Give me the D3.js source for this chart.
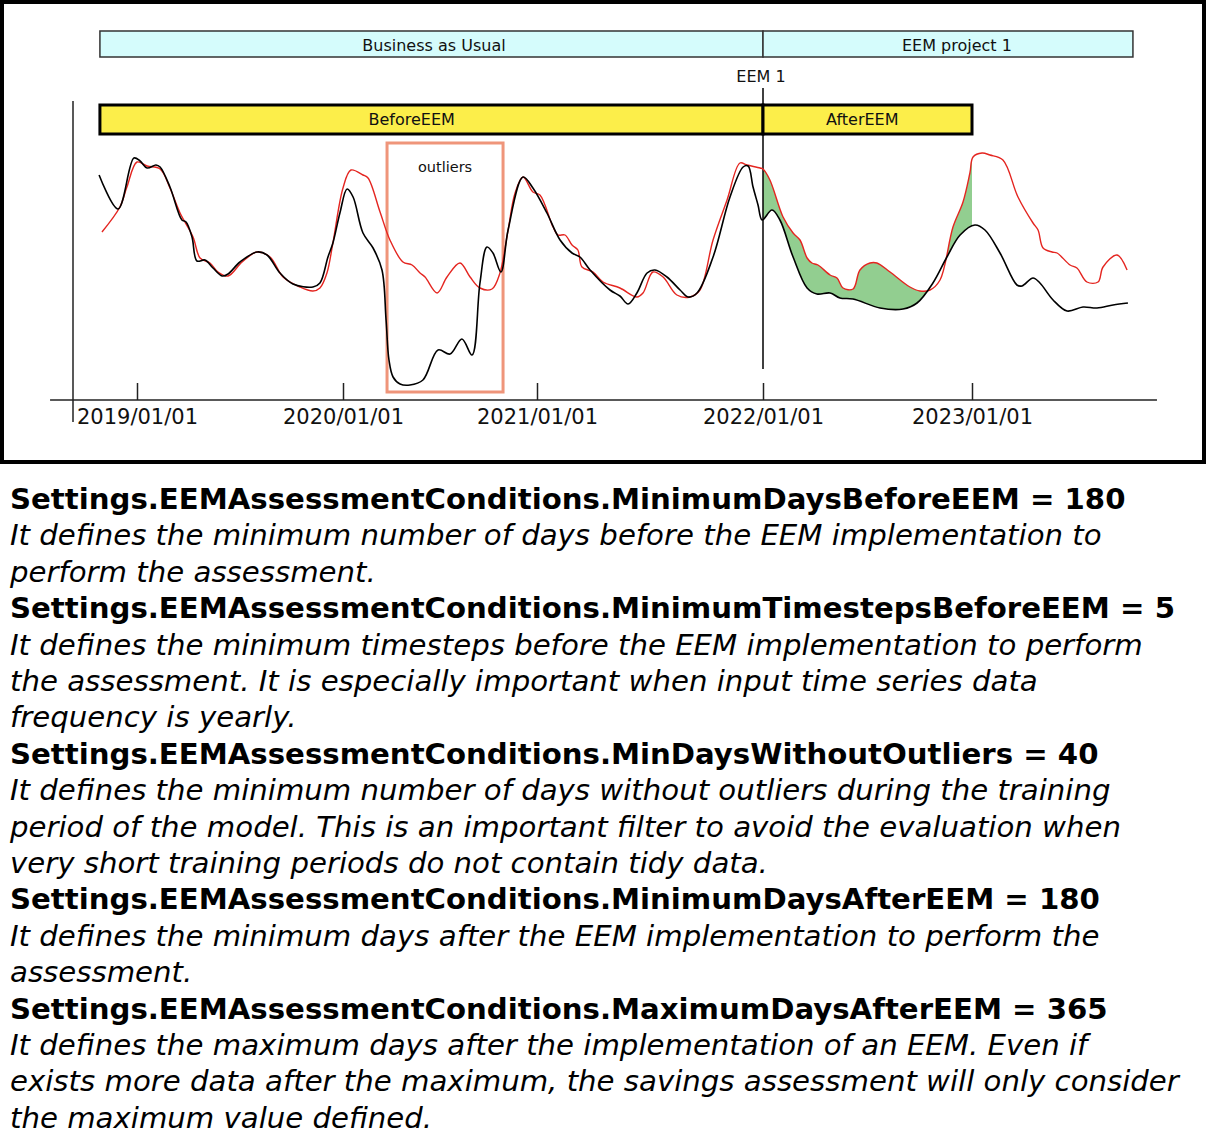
<!DOCTYPE html>
<html>
<head>
<meta charset="utf-8">
<script src="https://cdn.jsdelivr.net/npm/d3@7"></script>
<style>
  html, body { margin: 0; padding: 0; background: #fff; }
  svg { display: block; }
  text { font-family: "DejaVu Sans", sans-serif; }
</style>
</head>
<body>
<svg id="chart" width="1207" height="1131"></svg>
<script>
// ---------- DATA ----------
// Actual consumption (black line): [decimal year, value]
const actualSeries = [
  [2018.816,225],[2018.908,191],[2018.985,242],[2019.015,239],[2019.049,232],[2019.092,235],[2019.112,233],
  [2019.160,213],[2019.218,180],[2019.238,178],[2019.267,163],[2019.291,139],[2019.330,140],[2019.369,132],
  [2019.413,124],[2019.442,126],[2019.500,138],[2019.583,148],[2019.631,145],[2019.694,127],[2019.757,116],
  [2019.854,113],[2019.888,117],[2019.927,143],[2019.951,157],[2019.985,187],[2020.021,211],[2020.052,203],
  [2020.103,167],[2020.155,152],[2020.201,130],[2020.222,80],[2020.237,40],[2020.258,23],[2020.294,16],
  [2020.345,15],[2020.412,20],[2020.490,50],[2020.552,46],[2020.613,61],[2020.665,45],[2020.706,117],
  [2020.742,153],[2020.773,147],[2020.814,128],[2020.851,170],[2020.928,223],[2020.979,212],[2021.044,187],
  [2021.102,160],[2021.155,147],[2021.190,143],[2021.235,130],[2021.323,110],[2021.367,104],[2021.403,96],
  [2021.442,107],[2021.487,127],[2021.522,130],[2021.575,123],[2021.633,110],[2021.668,103],[2021.708,107],
  [2021.779,143],[2021.854,203],[2021.912,233],[2021.934,234],[2021.956,213],[2021.978,195],[2021.996,180],
  [2022.043,190],[2022.081,180],[2022.144,143],[2022.211,112],[2022.258,106],[2022.321,107],[2022.368,102],
  [2022.431,101],[2022.560,92],[2022.670,91],[2022.737,97],[2022.813,117],[2022.880,143],[2022.943,165],
  [2023.014,175],[2023.062,170],[2023.134,147],[2023.215,115],[2023.239,114],[2023.292,122],[2023.325,117],
  [2023.388,100],[2023.455,89],[2023.531,93],[2023.598,92],[2023.675,95],[2023.746,97]
];
// Model / baseline prediction (red line): [decimal year, value]
const predictedSeries = [
  [2018.830,168],[2018.917,193],[2018.951,213],[2019.000,238],[2019.049,234],[2019.112,231],[2019.160,212],
  [2019.209,187],[2019.272,163],[2019.306,142],[2019.354,137],[2019.393,128],[2019.442,124],[2019.510,138],
  [2019.583,148],[2019.646,143],[2019.709,123],[2019.791,113],[2019.854,109],[2019.888,112],[2019.922,127],
  [2019.951,157],[2020.000,212],[2020.041,230],[2020.103,225],[2020.129,222],[2020.191,188],[2020.242,160],
  [2020.309,138],[2020.356,135],[2020.397,127],[2020.423,123],[2020.485,107],[2020.536,123],[2020.603,137],
  [2020.655,123],[2020.706,112],[2020.768,111],[2020.809,127],[2020.851,170],[2020.887,207],[2020.928,223],
  [2020.979,208],[2021.013,205],[2021.071,173],[2021.093,165],[2021.124,165],[2021.155,155],[2021.181,150],
  [2021.199,133],[2021.248,128],[2021.292,118],[2021.367,112],[2021.442,103],[2021.469,107],[2021.513,128],
  [2021.558,123],[2021.619,105],[2021.677,103],[2021.721,110],[2021.779,160],[2021.841,200],[2021.898,237],
  [2021.929,235],[2021.987,232],[2022.000,231],[2022.033,220],[2022.096,183],[2022.144,167],[2022.177,160],
  [2022.211,142],[2022.234,137],[2022.263,135],[2022.321,125],[2022.354,122],[2022.383,112],[2022.431,111],
  [2022.464,130],[2022.512,137],[2022.545,137],[2022.608,128],[2022.703,113],[2022.751,109],[2022.799,110],
  [2022.847,120],[2022.909,173],[2022.957,198],[2022.990,227],[2023.005,243],[2023.048,247],[2023.086,245],
  [2023.148,240],[2023.220,203],[2023.292,177],[2023.316,170],[2023.340,152],[2023.383,148],[2023.407,147],
  [2023.469,135],[2023.502,132],[2023.550,118],[2023.603,118],[2023.627,133],[2023.694,145],[2023.742,130]
];
// Tick years and labels
const tickYears  = [2019, 2020, 2021, 2022, 2023];
const tickLabels = ["2019/01/01", "2020/01/01", "2021/01/01", "2022/01/01", "2023/01/01"];
// Project periods (top band)
const projectLabels = ["Business as Usual", "EEM project 1"];
const projectStart  = [2018.820, 2022.0];
const projectEnd    = [2022.0, 2023.770];
const projectLabelAt = [2020.469, 2022.928];
// Assessment periods (yellow band)
const assessLabels  = ["BeforeEEM", "AfterEEM"];
const assessStart   = [2018.820, 2022.0];
const assessEnd     = [2022.0, 2023.0];
const assessLabelAt = [2020.354, 2022.475];
// EEM event
const eemLabel = "EEM 1";
const eemDate = 2022.0;
// Outliers window
const outlierLabel = "outliers";
const outlierStart = 2020.227, outlierEnd = 2020.825;
const outlierLow = 8, outlierHigh = 257;
// Savings window
const savingsStart = 2022.0, savingsEnd = 2023.0;
// Axis extents
const axisStart = 2018.578, axisEnd = 2023.885;

// Description text
const descLines = [
  ["b", "Settings.EEMAssessmentConditions.MinimumDaysBeforeEEM = 180"],
  ["i", "It defines the minimum number of days before the EEM implementation to"],
  ["i", "perform the assessment."],
  ["b", "Settings.EEMAssessmentConditions.MinimumTimestepsBeforeEEM = 5"],
  ["i", "It defines the minimum timesteps before the EEM implementation to perform"],
  ["i", "the assessment. It is especially important when input time series data"],
  ["i", "frequency is yearly."],
  ["b", "Settings.EEMAssessmentConditions.MinDaysWithoutOutliers = 40"],
  ["i", "It defines the minimum number of days without outliers during the training"],
  ["i", "period of the model. This is an important filter to avoid the evaluation when"],
  ["i", "very short training periods do not contain tidy data."],
  ["b", "Settings.EEMAssessmentConditions.MinimumDaysAfterEEM = 180"],
  ["i", "It defines the minimum days after the EEM implementation to perform the"],
  ["i", "assessment."],
  ["b", "Settings.EEMAssessmentConditions.MaximumDaysAfterEEM = 365"],
  ["i", "It defines the maximum days after the implementation of an EEM. Even if"],
  ["i", "exists more data after the maximum, the savings assessment will only consider"],
  ["i", "the maximum value defined."]
];

// ---------- DRAW ----------
const svg = d3.select("#chart");

const x = d3.scaleLinear()
  .domain(tickYears)
  .range([137, 343, 537, 763, 972]);
const y = d3.scaleLinear().domain([0, 300]).range([400, 100]);

// frame
svg.append("rect").attr("x", 2).attr("y", 2).attr("width", 1202).attr("height", 460)
  .attr("fill", "none").attr("stroke", "#000").attr("stroke-width", 4);

const curve = d3.curveCatmullRom.alpha(0.5);
const line = d3.line().x(d => x(d[0])).y(d => y(d[1])).curve(curve);

// savings fill (between red and black where red above black)
const defs = svg.append("defs");
defs.append("clipPath").attr("id", "savWin")
  .append("rect").attr("x", x(savingsStart)).attr("y", 0)
  .attr("width", x(savingsEnd) - x(savingsStart)).attr("height", 460);
defs.append("clipPath").attr("id", "aboveBlack")
  .append("path")
  .attr("d", d3.area().x(d => x(d[0])).y0(0).y1(d => y(d[1])).curve(curve)(actualSeries));

svg.append("g").attr("clip-path", "url(#savWin)")
  .append("g").attr("clip-path", "url(#aboveBlack)")
  .append("path")
  .attr("d", d3.area().x(d => x(d[0])).y0(460).y1(d => y(d[1])).curve(curve)(predictedSeries))
  .attr("fill", "#92ce90");

// project band
const bandTop = 31, bandH = 26;
projectLabels.forEach((lab, i) => {
  svg.append("rect").attr("x", x(projectStart[i])).attr("y", bandTop)
    .attr("width", x(projectEnd[i]) - x(projectStart[i])).attr("height", bandH)
    .attr("fill", "#d5fcfc").attr("stroke", "#333").attr("stroke-width", 1.5);
  svg.append("text").attr("x", x(projectLabelAt[i])).attr("y", 51)
    .attr("text-anchor", "middle").attr("font-size", 16).attr("fill", "#111").text(lab);
});

// EEM label + line
svg.append("text").attr("x", x(eemDate) - 2).attr("y", 82).attr("text-anchor", "middle")
  .attr("font-size", 16).attr("fill", "#111").text(eemLabel);
svg.append("line").attr("x1", x(eemDate)).attr("x2", x(eemDate)).attr("y1", 88).attr("y2", 369)
  .attr("stroke", "#000").attr("stroke-width", 1.5);

// assessment band
assessLabels.forEach((lab, i) => {
  svg.append("rect").attr("x", x(assessStart[i])).attr("y", 105)
    .attr("width", x(assessEnd[i]) - x(assessStart[i])).attr("height", 29)
    .attr("fill", "#fcee4a").attr("stroke", "#000").attr("stroke-width", 3);
  svg.append("text").attr("x", x(assessLabelAt[i])).attr("y", 125)
    .attr("text-anchor", "middle").attr("font-size", 16).attr("fill", "#111").text(lab);
});

// outliers box
svg.append("rect").attr("x", x(outlierStart)).attr("y", y(outlierHigh))
  .attr("width", x(outlierEnd) - x(outlierStart)).attr("height", y(outlierLow) - y(outlierHigh))
  .attr("fill", "none").attr("stroke", "#ef957a").attr("stroke-width", 3);
svg.append("text").attr("x", x((outlierStart + outlierEnd) / 2) + 0).attr("y", 172)
  .attr("text-anchor", "middle").attr("font-size", 14.5).attr("fill", "#111").text(outlierLabel);

// lines
svg.append("path").attr("d", line(predictedSeries)).attr("fill", "none")
  .attr("stroke", "#e42520").attr("stroke-width", 1.4);
svg.append("path").attr("d", line(actualSeries)).attr("fill", "none")
  .attr("stroke", "#000").attr("stroke-width", 1.6);

// axes
svg.append("line").attr("x1", 73).attr("x2", 73).attr("y1", 101).attr("y2", 422)
  .attr("stroke", "#222").attr("stroke-width", 1.5);
const xAxis = d3.axisBottom(x).tickValues(tickYears)
  .tickFormat((d, i) => tickLabels[i]).tickSizeInner(-17).tickSizeOuter(0).tickPadding(9);
const gx = svg.append("g").attr("transform", "translate(0,400)").call(xAxis);
gx.select(".domain").remove();
gx.selectAll(".tick line").attr("stroke", "#222").attr("stroke-width", 1.5);
gx.selectAll(".tick text").attr("font-family", "DejaVu Sans").attr("font-size", 21).attr("fill", "#111");
svg.append("line").attr("x1", x(axisStart)).attr("x2", x(axisEnd)).attr("y1", 400).attr("y2", 400)
  .attr("stroke", "#222").attr("stroke-width", 1.5);

// description text
const tg = svg.append("g");
descLines.forEach((l, i) => {
  tg.append("text").attr("x", 10).attr("y", 509 + i * 36.4)
    .attr("font-size", 29.2)
    .attr("font-weight", l[0] === "b" ? "bold" : "normal")
    .attr("font-style", l[0] === "i" ? "italic" : "normal")
    .attr("fill", "#000").text(l[1]);
});
</script>
</body>
</html>
